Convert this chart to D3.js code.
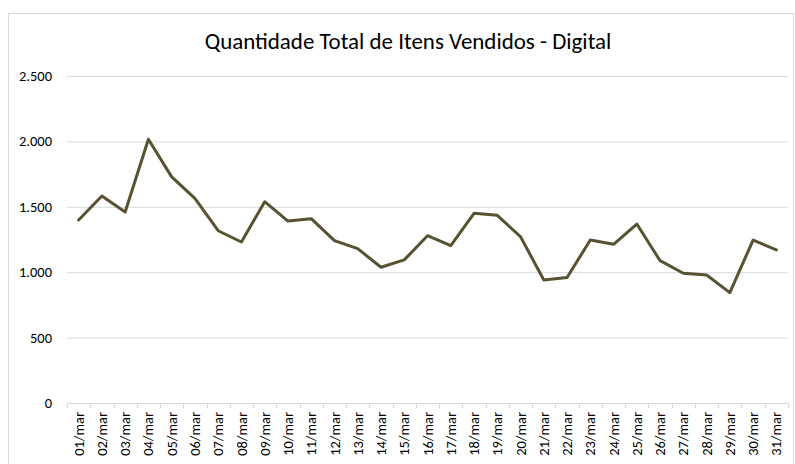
<!DOCTYPE html>
<html>
<head>
<meta charset="utf-8">
<script src="https://cdn.jsdelivr.net/npm/d3@7"></script>
<style>
    body { margin: 0; background: #fff; }
    svg { display: block; font-family: Calibri, Carlito, Lato, sans-serif; }
    .grid line { stroke: #d9d9d9; stroke-width: 1; }
    .grid path { display: none; }
</style>
</head>
<body>
<svg id="chart"></svg>
<script>
// categories (dias de março)
var dias = ["01/mar", "02/mar", "03/mar", "04/mar", "05/mar", "06/mar", "07/mar", "08/mar",
    "09/mar", "10/mar", "11/mar", "12/mar", "13/mar", "14/mar", "15/mar", "16/mar",
    "17/mar", "18/mar", "19/mar", "20/mar", "21/mar", "22/mar", "23/mar", "24/mar",
    "25/mar", "26/mar", "27/mar", "28/mar", "29/mar", "30/mar", "31/mar"];

// quantidade total de itens vendidos
var quantidades = [1399, 1582, 1460, 2017, 1729, 1564, 1317, 1231,
    1539, 1391, 1409, 1241, 1180, 1038, 1094, 1279,
    1203, 1450, 1435, 1271, 941, 959, 1246, 1213,
    1368, 1088, 992, 979, 844, 1246, 1170];

var yTicks = [0, 500, 1000, 1500, 2000, 2500];

var titulo = "Quantidade Total de Itens Vendidos - Digital";

var width = 795;
var height = 464;
var margin = { "left": 67, "right": 7, "top": 76, "bottom": 61 };

var svg = d3.select("#chart")
    .attr("width", width)
    .attr("height", height);

// fit a font size so a sample text gets the wanted width
function fitSize(sample, base, target) {
    var t = svg.append("text").style("font-size", base + "px").text(sample);
    var w = t.node().getComputedTextLength();
    t.remove();
    return base * target / w;
}
var tickSize = fitSize("2.500", 12, 33);
var titleSize = fitSize(titulo, 18, 407);

// chart area border
svg.append("rect")
    .attr("x", 8.5)
    .attr("y", 13.5)
    .attr("width", 785)
    .attr("height", 470)
    .style("fill", "#fff")
    .style("stroke", "#d9d9d9")
    .style("stroke-width", 1);

var plotW = width - margin.left - margin.right;
var plotH = height - margin.top - margin.bottom;

var x = d3.scaleBand()
    .domain(dias)
    .range([0, plotW]);

var y = d3.scaleLinear()
    .domain([0, 2500])
    .range([plotH, 0]);

var g = svg.append("g")
    .attr("transform", "translate(" + margin.left + "," + margin.top + ")");

// horizontal gridlines
g.append("g")
    .attr("class", "grid")
    .call(d3.axisLeft(y)
        .tickValues(yTicks)
        .tickSize(-plotW)
        .tickFormat(""));

// y labels
var fmt = d3.formatLocale({ decimal: ",", thousands: ".", grouping: [3], currency: ["R$", ""] }).format(",d");
g.selectAll(".ylab")
    .data(yTicks)
    .enter()
    .append("text")
    .attr("class", "ylab")
    .attr("x", -15)
    .attr("y", d => y(d))
    .attr("dy", "0.35em")
    .attr("text-anchor", "end")
    .style("font-size", tickSize + "px")
    .style("fill", "#000")
    .text(d => fmt(d));

// x axis line + ticks between categories
var xAxisG = g.append("g")
    .attr("transform", "translate(0," + plotH + ")");
xAxisG.append("line")
    .attr("x1", 0).attr("x2", plotW)
    .attr("y1", 0.5).attr("y2", 0.5)
    .style("stroke", "#d9d9d9");
xAxisG.selectAll(".xtick")
    .data(dias.concat(["fim"]))
    .enter()
    .append("line")
    .attr("class", "xtick")
    .attr("x1", (d, i) => Math.round(i * x.step()) + 0.5)
    .attr("x2", (d, i) => Math.round(i * x.step()) + 0.5)
    .attr("y1", 0)
    .attr("y2", 5)
    .style("stroke", "#d9d9d9");

// x labels, rotated
xAxisG.selectAll(".xlab")
    .data(dias)
    .enter()
    .append("text")
    .attr("class", "xlab")
    .attr("transform", d => "translate(" + (x(d) + x.bandwidth() / 2) + ",9) rotate(-90)")
    .attr("dy", "0.35em")
    .attr("text-anchor", "end")
    .style("font-size", tickSize + "px")
    .style("fill", "#000")
    .text(d => d);

// the line
var lineFn = d3.line()
    .x((d, i) => x(dias[i]) + x.bandwidth() / 2)
    .y(d => y(d));

g.append("path")
    .datum(quantidades)
    .attr("d", lineFn)
    .style("fill", "none")
    .style("stroke", "#585233")
    .style("stroke-width", 3)
    .style("stroke-linejoin", "round")
    .style("stroke-linecap", "round");

// title
svg.append("text")
    .attr("x", 408)
    .attr("y", 49)
    .attr("text-anchor", "middle")
    .style("font-size", titleSize + "px")
    .style("fill", "#000")
    .text(titulo);
</script>
</body>
</html>
